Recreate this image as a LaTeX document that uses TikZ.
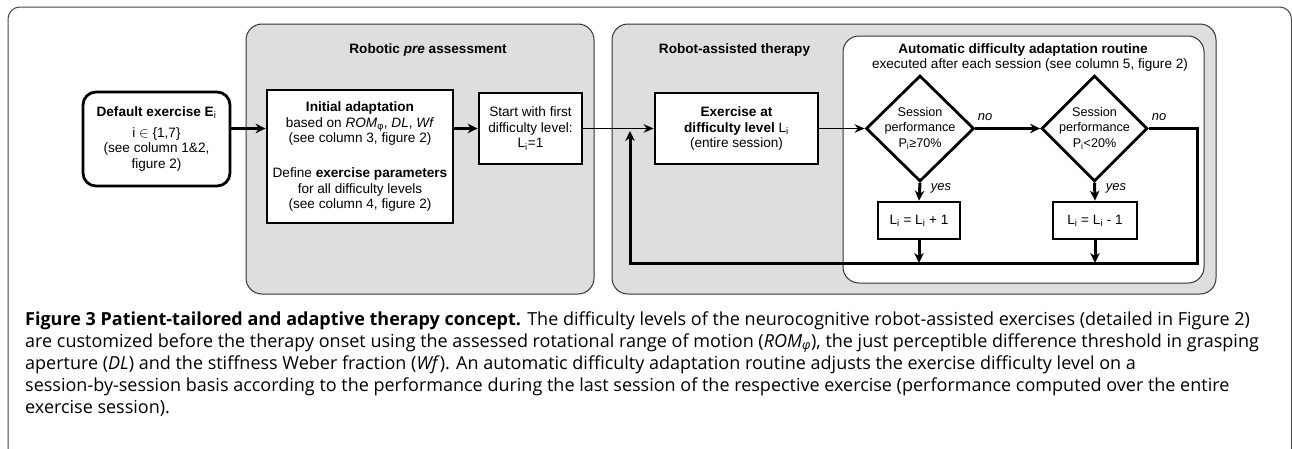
\documentclass[tikz,border=0pt]{standalone}
\usepackage{fontspec}
\setmainfont{Liberation Sans}
\newfontfamily\capfont{Open Sans}
\newfontfamily\grkfont{Liberation Sans}
\usetikzlibrary{shapes.geometric,arrows.meta,calc}
\definecolor{panelgrey}{RGB}{221,222,224}
\definecolor{framegrey}{RGB}{70,70,70}
\newcommand{\sbi}{\textsubscript{\normalfont i}}
\begin{document}
\begin{tikzpicture}[x=1pt,y=-1pt,
  box/.style={draw=black, line width=2.8pt, fill=white, align=center, inner sep=0pt,
    font=\fontsize{13.6}{15.5}\selectfont},
  panel/.style={draw=black!80, line width=1pt, fill=panelgrey, rounded corners=16pt},
  flowthin/.style={line width=1.5pt, -{Stealth[length=10pt,width=8.5pt]}},
  flowthick/.style={line width=3pt, -{Stealth[length=10pt,width=9.5pt]}},
  linethick/.style={line width=3pt},
  lbl/.style={font=\fontsize{13}{15}\selectfont\itshape, inner sep=0pt},
  ttl/.style={font=\fontsize{13.6}{15.5}\selectfont, inner sep=0pt, align=center},
  dtext/.style={font=\fontsize{12.6}{15.5}\selectfont, inner sep=0pt, align=center},
  capline/.style={anchor=base west, inner sep=0pt, font=\capfont\fontsize{18}{21}\selectfont}
]
\useasboundingbox (0,0) rectangle (1292,448);
\fill[white] (0,0) rectangle (1292,448);
% outer frame
\draw[draw=framegrey, line width=1pt, rounded corners=12pt] (8,470) -- (8,7) -- (1291.5,7) -- (1291.5,470);
% panels
\draw[panel] (246,24) rectangle (594,294);
\draw[panel] (612,24) rectangle (1216,294);
\draw[draw=black!80, line width=1pt, fill=white, rounded corners=16pt] (843,36) rectangle (1204,283);
% titles
\node[ttl] (t1) at (428,50) {\textbf{Robotic \textit{pre} assessment}};
\node[ttl] (t2) at (734.5,50) {\textbf{Robot-assisted therapy}};
\node[ttl] (t3) at (1023,50) {\textbf{Automatic difficulty adaptation routine}};
\node[ttl] (t4) at (1030,65) {executed after each session (see column 5, figure 2)};
% nodes
\node[box, rounded corners=13pt, minimum width=147pt, minimum height=94pt] (def) at (156.5,139)
  {\textbf{Default exercise E}\sbi\\[5pt] i $\in$ \{1,7\}\\ (see column 1\&2,\\ figure 2)};
\node[box, minimum width=186pt, minimum height=133pt] (init) at (360,156.5)
  {\textbf{Initial adaptation}\\ based on \textit{ROM}\textsubscript{\grkfont φ}, \textit{DL}, \textit{Wf}\\ (see column 3, figure 2)\\[19.5pt]
   Define \textbf{exercise parameters}\\ for all difficulty levels\\ (see column 4, figure 2)};
\node[box, minimum width=103pt, minimum height=71pt] (start) at (530.5,128.5)
  {Start with first\\ difficulty level:\\ L\sbi=1};
\node[box, minimum width=163pt, minimum height=71pt] (ex) at (736.5,128.5)
  {\textbf{Exercise at}\\ \textbf{difficulty level} L\sbi\\ (entire session)};
\node[diamond, draw=black, line width=2.8pt, fill=white, minimum width=108pt, minimum height=106pt, inner sep=0pt] (d1) at (920,128.5) {};
\node[dtext] (d1t) at (d1.center) {Session\\ performance\\ P\sbi≥70\%};
\node[diamond, draw=black, line width=2.8pt, fill=white, minimum width=106pt, minimum height=106pt, inner sep=0pt] (d2) at (1094.5,128.5) {};
\node[dtext] (d2t) at (d2.center) {Session\\ performance\\ P\sbi<20\%};
\node[box, minimum width=82pt, minimum height=37pt] (inc) at (919,220.5) {L\sbi{} = L\sbi{} + 1};
\node[box, minimum width=84pt, minimum height=37pt] (dec) at (1095,220.5) {L\sbi{} = L\sbi{} - 1};
% coordinates of the return loop
\coordinate (rt) at (1197,128.5);
\coordinate (rb) at (1197,263);
\coordinate (lb) at (630,263);
\coordinate (lt) at (630,131);
% connectors
\draw[flowthick] (def.east |- start.west) -- (init.west |- start.west);
\draw[flowthick] (init.east |- start.west) -- (start.west);
\draw[flowthin] (start.east) -- (ex.west);
\draw[flowthin] (ex.east) -- (d1.west);
\draw[flowthick] (d1.east) -- (d2.west);
\draw[flowthick] (d1.south) -- (inc.north);
\draw[flowthick] (d2.south) -- (dec.north);
\draw[flowthick] (inc.south) -- (inc.south |- rb);
\draw[flowthick] (dec.south) -- (dec.south |- rb);
\draw[linethick, -{Stealth[length=10pt,width=9.5pt]}] (d2.east) -- (rt) -- (rb) -- (lb) -- (lt);
% labels
\node[lbl] (no1) at (985,117) {no};
\node[lbl] (no2) at (1159,117) {no};
\node[lbl] (yes1) at (941,188) {yes};
\node[lbl] (yes2) at (1116,188) {yes};
% caption
\node[capline] (c1) at (25,325) {\textbf{Figure 3 Patient-tailored and adaptive therapy concept.} The difficulty levels of the neurocognitive robot-assisted exercises (detailed in Figure 2)};
\node[capline] (c2) at (25,347) {are customized before the therapy onset using the assessed rotational range of motion (\textit{ROM}\textsubscript{\itshape φ}), the just perceptible difference threshold in grasping};
\node[capline] (c3) at (25,369) {aperture (\textit{DL}) and the stiffness Weber fraction (\textit{Wf}). An automatic difficulty adaptation routine adjusts the exercise difficulty level on a};
\node[capline] (c4) at (25,391) {session-by-session basis according to the performance during the last session of the respective exercise (performance computed over the entire};
\node[capline] (c5) at (25,413) {exercise session).};
\end{tikzpicture}
\end{document}
